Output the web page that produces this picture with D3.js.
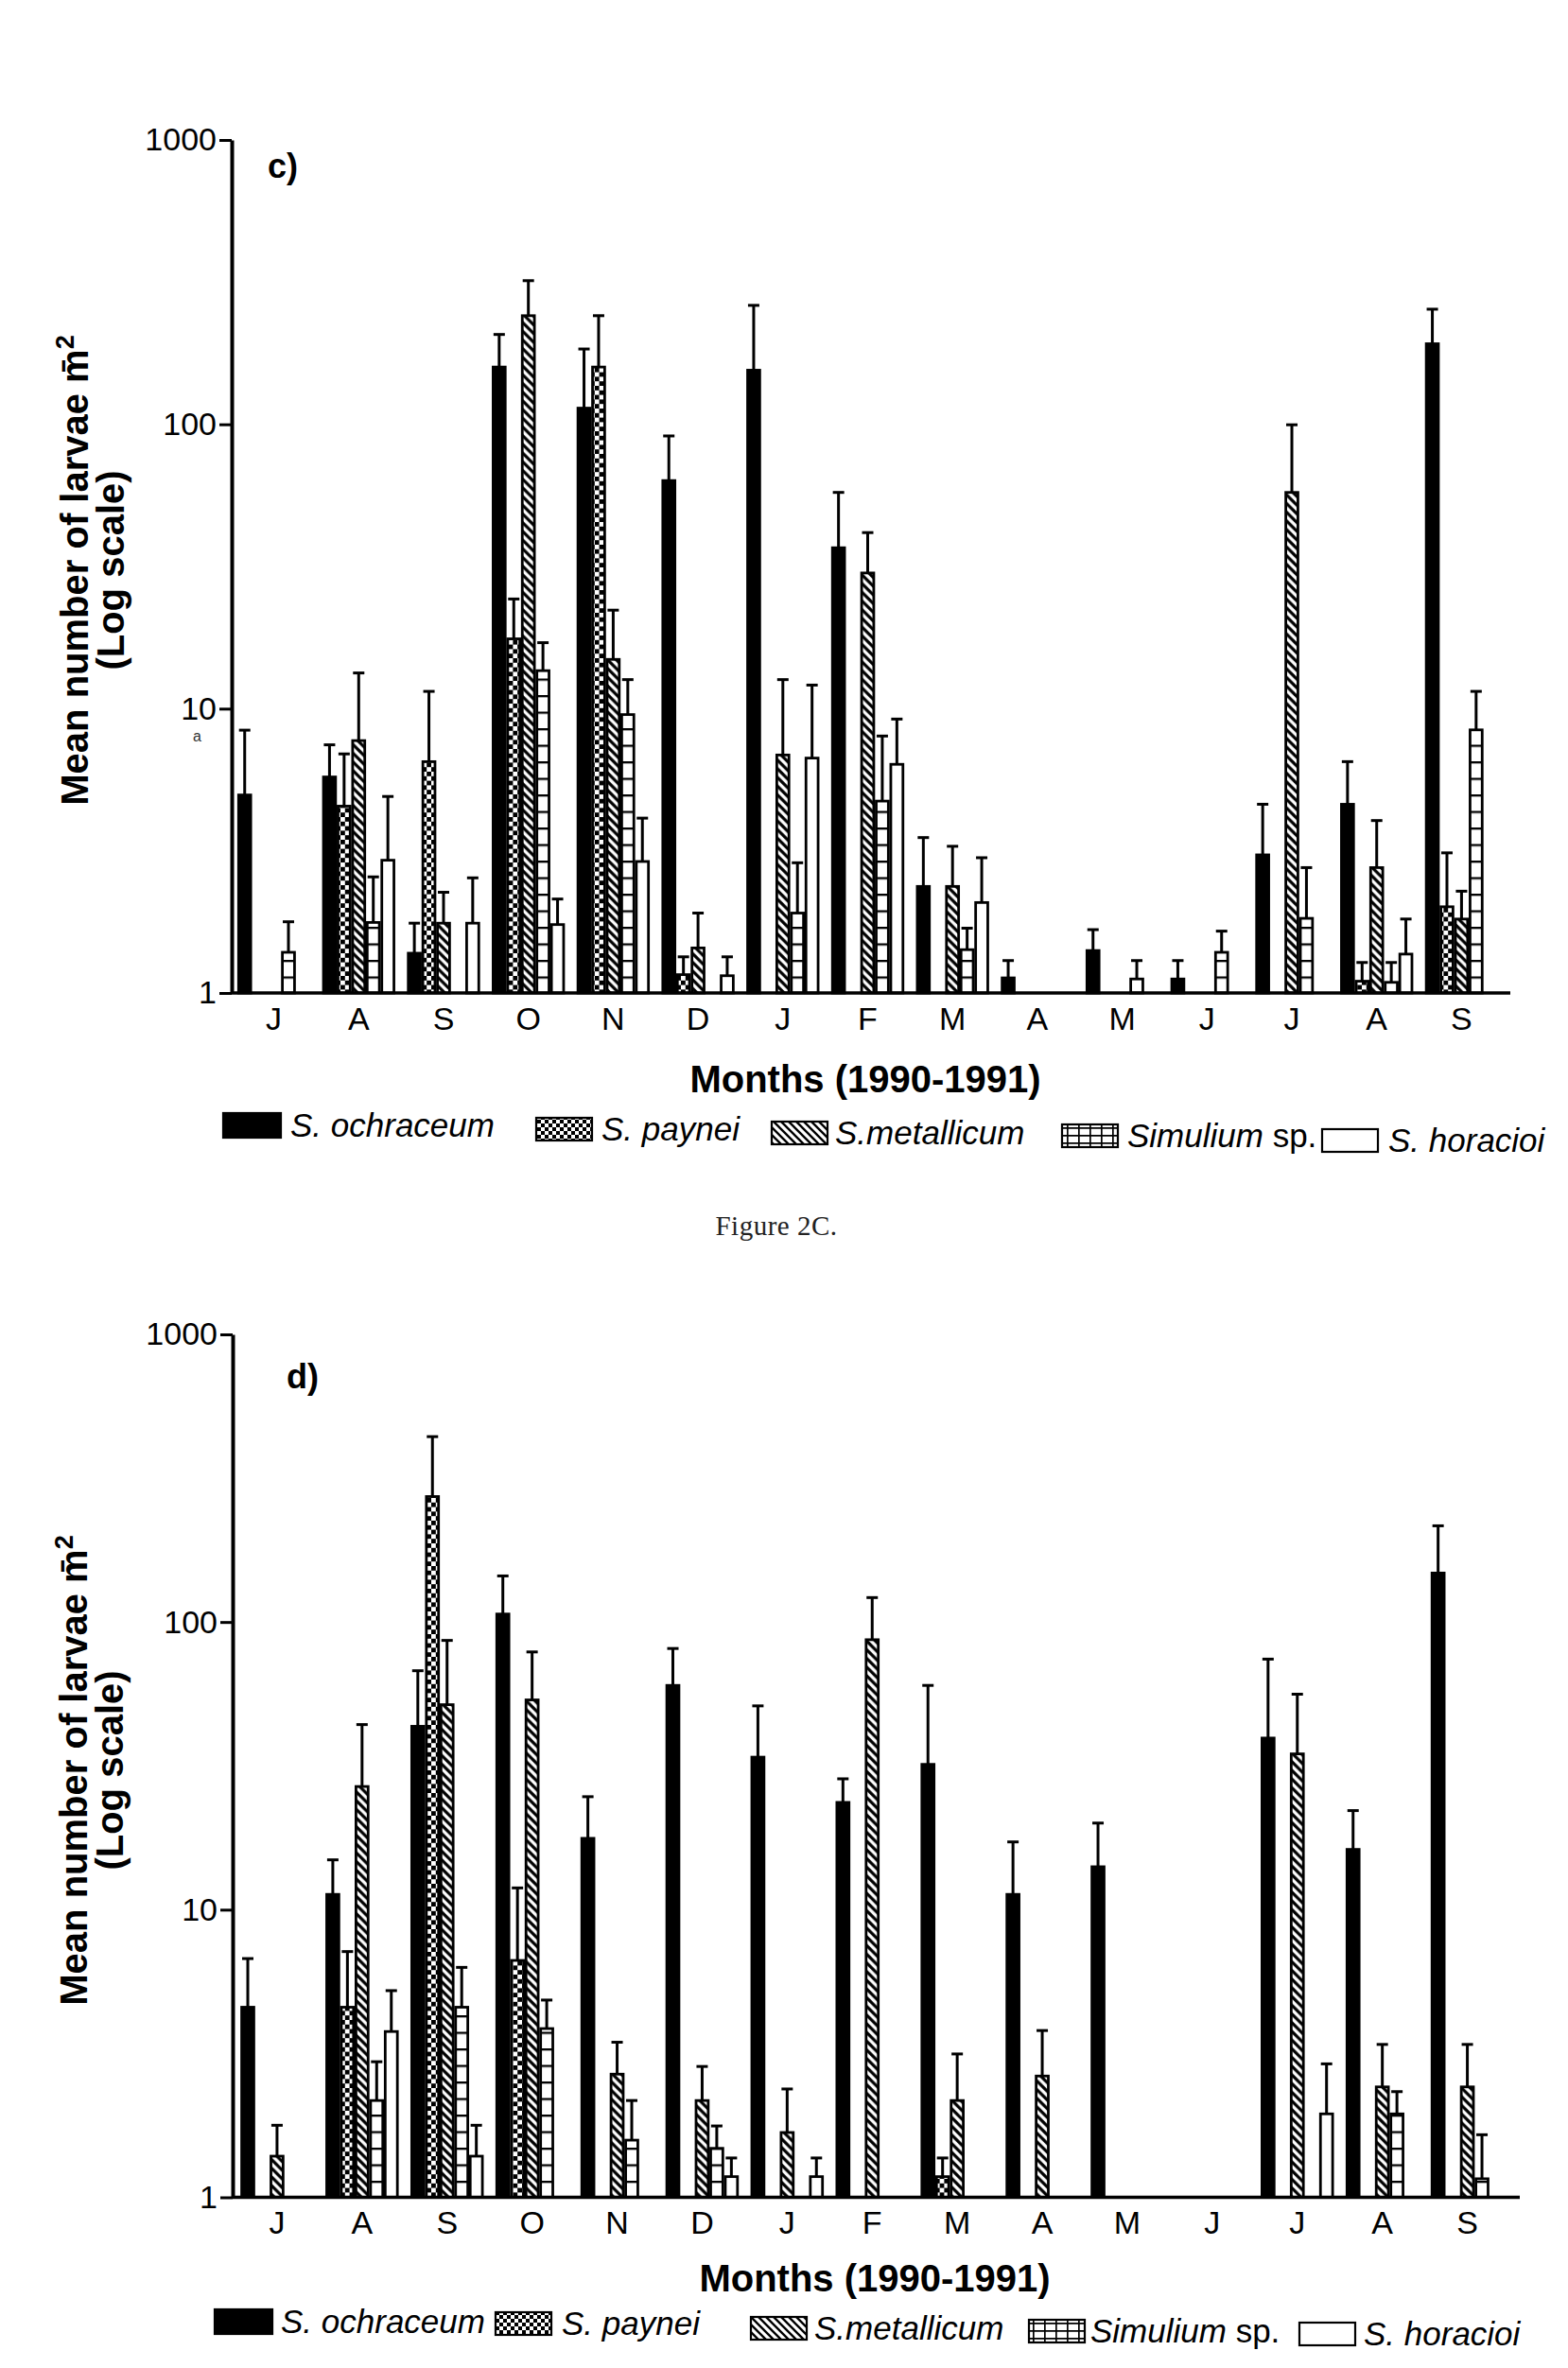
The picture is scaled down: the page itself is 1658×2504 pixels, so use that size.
<!DOCTYPE html>
<html>
<head>
<meta charset="utf-8">
<script src="https://cdn.jsdelivr.net/npm/d3@7"></script>
<style>
  html, body { margin: 0; padding: 0; background: #fff; }
  svg { display: block; }
</style>
</head>
<body>
<svg id="fig" width="1658" height="2504"></svg>
<script>
// ---------------- DATA ----------------
const months = ["J","A","S","O","N","D","J","F","M","A","M","J","J","A","S"];
const speciesKeys = ["ochraceum","paynei","metallicum","simulium","horacioi"];
const speciesLabels = ["S. ochraceum","S. paynei","S.metallicum","Simulium sp.","S. horacioi"];
const yTickValues = [1, 10, 100, 1000];

// Panel c) means (null = no bar)
const cOchraceum  = [4.97, 5.75, 1.38, 159, 114, 63.4, 155, 36.8, 2.37, 1.13, 1.41, 1.12, 3.06, 4.61, 192];
const cPaynei     = [null, 4.54, 6.51, 17.6, 159, 1.16, null, null, null, null, null, null, null, 1.10, 2.01];
const cMetallicum = [null, 7.72, 1.76, 241, 14.9, 1.44, 6.87, 30.0, 2.37, null, null, null, 57.6, 2.76, 1.82];
const cSimulium   = [1.39, 1.77, null, 13.6, 9.53, null, 1.91, 4.73, 1.42, null, 1.12, 1.39, 1.83, 1.09, 8.42];
const cHoracioi   = [null, 2.93, 1.76, 1.74, 2.90, 1.15, 6.70, 6.37, 2.08, null, null, null, null, 1.37, null];
// Panel c) upper end of error bars
const cOchraceumErr  = [8.4, 7.46, 1.76, 207, 184, 91, 262, 57.6, 3.52, 1.30, 1.67, 1.30, 4.61, 6.51, 254];
const cPayneiErr     = [null, 6.93, 11.5, 24.3, 241, 1.34, null, null, null, null, null, null, null, 1.28, 3.11];
const cMetallicumErr = [null, 13.35, 2.26, 320, 22.2, 1.91, 12.65, 41.6, 3.28, null, null, null, 99.6, 4.04, 2.28];
const cSimuliumErr   = [1.78, 2.56, null, 17.06, 12.65, null, 2.87, 8.01, 1.69, null, 1.30, 1.65, 2.76, 1.28, 11.5];
const cHoracioiErr   = [null, 4.91, 2.54, 2.14, 4.12, 1.34, 12.1, 9.19, 2.99, null, null, null, null, 1.82, null];

// Panel d) means
const dOchraceum  = [4.58, 11.3, 43.4, 106.6, 17.7, 60.2, 33.9, 23.6, 32.0, 11.3, 14.1, null, 39.5, 16.2, 148];
const dPaynei     = [null, 4.58, 273, 6.66, null, null, null, null, 1.18, null, null, null, null, null, null];
const dMetallicum = [1.39, 26.8, 51.6, 53.6, 2.68, 2.17, 1.68, 86.8, 2.17, 2.64, null, null, 34.8, 2.42, 2.42];
const dSimulium   = [null, 2.17, 4.58, 3.86, 1.58, 1.48, null, null, null, null, null, null, null, 1.95, 1.16];
const dHoracioi   = [null, 3.77, 1.39, null, null, 1.18, 1.18, null, null, null, null, null, 1.95, null, null];
// Panel d) upper end of error bars
const dOchraceumErr  = [6.76, 14.9, 67.7, 144.6, 24.7, 80.9, 51.1, 28.5, 60.2, 17.2, 20.0, null, 74.3, 22.1, 216];
const dPayneiErr     = [null, 7.15, 441, 11.9, null, null, null, null, 1.37, null, null, null, null, null, null];
const dMetallicumErr = [1.78, 44, 86.3, 78.7, 3.46, 2.85, 2.38, 121.6, 3.15, 3.80, null, null, 56.1, 3.40, 3.40];
const dSimuliumErr   = [null, 2.96, 6.3, 4.85, 2.17, 1.77, null, null, null, null, null, null, null, 2.33, 1.65];
const dHoracioiErr   = [null, 5.23, 1.78, null, null, 1.37, 1.37, null, null, null, null, null, 2.91, null, null];

// ---------------- LAYOUT ----------------
const FONT = "'Liberation Sans', Arial, Helvetica, sans-serif";
const layoutC = {
  means: [cOchraceum, cPaynei, cMetallicum, cSimulium, cHoracioi],
  errs:  [cOchraceumErr, cPayneiErr, cMetallicumErr, cSimuliumErr, cHoracioiErr],
  axisX: 245, axisEnd: 1597, yTop: 148, yBase: 1050,
  bandStart: 245, bandEnd: 1590, padOuter: 0.067,
  tag: "c)", tagX: 283, tagY: 188,
  monthY: 1089, titleX: 915, titleY: 1155,
  yTitleCenter: 603, yTitleX1: 93, yTitleX2: 131,
  swX: [236, 567, 816, 1123, 1398], txX: [307, 636, 883, 1192, 1468],
  lgY: [1190, 1194, 1198, 1201, 1206]
};
const layoutD = {
  means: [dOchraceum, dPaynei, dMetallicum, dSimulium, dHoracioi],
  errs:  [dOchraceumErr, dPayneiErr, dMetallicumErr, dSimuliumErr, dHoracioiErr],
  axisX: 246, axisEnd: 1607, yTop: 1411, yBase: 2323.5,
  bandStart: 246, bandEnd: 1598.5, padOuter: 0.092,
  tag: "d)", tagX: 303, tagY: 1468,
  monthY: 2362, titleX: 925, titleY: 2423,
  yTitleCenter: 1872, yTitleX1: 92, yTitleX2: 130,
  swX: [227, 524, 794, 1088, 1374], txX: [297, 594, 861, 1153, 1442],
  lgY: [2455, 2457, 2462, 2465, 2468]
};

const svg = d3.select("#fig");
svg.append("rect").attr("width", 1658).attr("height", 2504).attr("fill", "#fff");

// ---------------- PATTERNS ----------------
const defs = svg.append("defs");
function checker(id, s) {
  const p = defs.append("pattern").attr("id", id).attr("patternUnits", "userSpaceOnUse")
    .attr("width", 2 * s).attr("height", 2 * s);
  p.append("rect").attr("width", 2 * s).attr("height", 2 * s).attr("fill", "#fff");
  p.append("rect").attr("width", s).attr("height", s).attr("fill", "#000");
  p.append("rect").attr("x", s).attr("y", s).attr("width", s).attr("height", s).attr("fill", "#000");
}
checker("chk", 4.8);
checker("chkL", 4);
function hatch(id, s, w) {
  const p = defs.append("pattern").attr("id", id).attr("patternUnits", "userSpaceOnUse")
    .attr("width", s).attr("height", s);
  p.append("rect").attr("width", s).attr("height", s).attr("fill", "#fff");
  p.append("path")
    .attr("d", `M${-s / 2},${-s / 2}L${s * 1.5},${s * 1.5}M${-s / 2},${s / 2}L${s / 2},${s * 1.5}M${s / 2},${-s / 2}L${s * 1.5},${s / 2}`)
    .attr("stroke", "#000").attr("stroke-width", w);
}
hatch("hatch", 9.2, 3.2);
hatch("hatchL", 8, 2.4);
function hlines(id, y0) {
  const p = defs.append("pattern").attr("id", id).attr("patternUnits", "userSpaceOnUse")
    .attr("x", 0).attr("y", y0).attr("width", 20).attr("height", 17.5);
  p.append("rect").attr("width", 20).attr("height", 17.5).attr("fill", "#fff");
  p.append("line").attr("x1", 0).attr("x2", 20).attr("y1", 1).attr("y2", 1)
    .attr("stroke", "#000").attr("stroke-width", 2.6);
}
hlines("hlC", layoutC.yBase);
hlines("hlD", layoutD.yBase);
(function grid() {
  const p = defs.append("pattern").attr("id", "gridL").attr("patternUnits", "userSpaceOnUse")
    .attr("width", 12).attr("height", 8);
  p.append("rect").attr("width", 12).attr("height", 8).attr("fill", "#fff");
  p.append("path").attr("d", "M0,0.8H12M0.8,0V8").attr("stroke", "#000").attr("stroke-width", 1.8);
})();

function barFill(key, panelId) {
  switch (key) {
    case "ochraceum": return "#000";
    case "paynei": return "url(#chk)";
    case "metallicum": return "url(#hatch)";
    case "simulium": return panelId === "c" ? "url(#hlC)" : "url(#hlD)";
    default: return "#fff";
  }
}
function legendFill(key) {
  switch (key) {
    case "ochraceum": return "#000";
    case "paynei": return "url(#chkL)";
    case "metallicum": return "url(#hatchL)";
    case "simulium": return "url(#gridL)";
    default: return "#fff";
  }
}

// ---------------- DRAW PANEL ----------------
function drawPanel(L, panelId) {
  const g = svg.append("g");

  const x = d3.scaleBand().domain(d3.range(months.length))
    .range([L.bandStart, L.bandEnd]).paddingInner(0.14).paddingOuter(L.padOuter);
  const xs = d3.scaleBand().domain(speciesKeys).range([0, x.bandwidth()]);
  const y = d3.scaleLog().domain([1, 1000]).range([L.yBase, L.yTop]);

  const rows = [];
  months.forEach((m, i) => {
    speciesKeys.forEach((k, s) => {
      const v = L.means[s][i];
      if (v != null) rows.push({ i, k, v, e: L.errs[s][i] });
    });
  });

  // bars
  g.append("g").selectAll("rect").data(rows).join("rect")
    .attr("x", d => x(d.i) + xs(d.k) + 1.3)
    .attr("width", xs.bandwidth() - 2.6)
    .attr("y", d => y(d.v))
    .attr("height", d => L.yBase - y(d.v))
    .attr("fill", d => barFill(d.k, panelId))
    .attr("stroke", "#000")
    .attr("stroke-width", 2.8);

  // error bars
  const eg = g.append("g").attr("stroke", "#000").attr("stroke-width", 3);
  const withErr = rows.filter(d => d.e != null);
  eg.selectAll("line.v").data(withErr).join("line").attr("class", "v")
    .attr("x1", d => x(d.i) + xs(d.k) + xs.bandwidth() / 2)
    .attr("x2", d => x(d.i) + xs(d.k) + xs.bandwidth() / 2)
    .attr("y1", d => y(d.v)).attr("y2", d => y(d.e));
  eg.selectAll("line.c").data(withErr).join("line").attr("class", "c")
    .attr("x1", d => x(d.i) + xs(d.k) + xs.bandwidth() / 2 - 6)
    .attr("x2", d => x(d.i) + xs(d.k) + xs.bandwidth() / 2 + 6)
    .attr("y1", d => y(d.e)).attr("y2", d => y(d.e));

  // x baseline
  g.append("line").attr("x1", L.axisX).attr("x2", L.axisEnd)
    .attr("y1", L.yBase).attr("y2", L.yBase)
    .attr("stroke", "#000").attr("stroke-width", 3.6);

  // y axis
  const ya = g.append("g").attr("transform", `translate(${L.axisX},0)`)
    .call(d3.axisLeft(y).tickValues(yTickValues).tickFormat(d3.format("d"))
      .tickSize(13).tickPadding(3).tickSizeOuter(0));
  ya.select(".domain").attr("stroke", "#000").attr("stroke-width", 4);
  ya.selectAll(".tick line").attr("stroke", "#000").attr("stroke-width", 3);
  ya.selectAll(".tick text").attr("fill", "#000").attr("font-family", FONT).attr("font-size", 34);

  // month labels
  const xa = g.append("g").attr("transform", `translate(0,${L.monthY})`)
    .call(d3.axisBottom(x).tickFormat(i => months[i]).tickSize(0).tickPadding(0));
  xa.select(".domain").remove();
  xa.selectAll(".tick text").attr("y", 0).attr("dy", 0).attr("fill", "#000")
    .attr("font-family", FONT).attr("font-size", 34);

  // panel tag
  g.append("text").attr("x", L.tagX).attr("y", L.tagY).text(L.tag)
    .attr("font-family", FONT).attr("font-weight", "bold").attr("font-size", 36);

  // x title
  g.append("text").attr("x", L.titleX).attr("y", L.titleY).attr("text-anchor", "middle")
    .attr("font-family", FONT).attr("font-weight", "bold").attr("font-size", 40)
    .text("Months (1990-1991)");

  // y title
  const yt1 = g.append("text")
    .attr("transform", `translate(${L.yTitleX1},${L.yTitleCenter}) rotate(-90)`)
    .attr("text-anchor", "middle").attr("font-family", FONT)
    .attr("font-weight", "bold").attr("font-size", 40);
  yt1.append("tspan").text("Mean number of larvae m\u0304");
  yt1.append("tspan").attr("dy", -15).attr("font-size", 27).text("2");
  g.append("text")
    .attr("transform", `translate(${L.yTitleX2},${L.yTitleCenter}) rotate(-90)`)
    .attr("text-anchor", "middle").attr("font-family", FONT)
    .attr("font-weight", "bold").attr("font-size", 40)
    .text("(Log scale)");

  // legend
  const lg = g.append("g");
  speciesKeys.forEach((k, s) => {
    const cy = L.lgY[s];
    const isBlack = k === "ochraceum";
    lg.append("rect").attr("x", L.swX[s]).attr("y", cy - (isBlack ? 13 : 12))
      .attr("width", isBlack ? 61 : 59).attr("height", isBlack ? 26 : 24)
      .attr("fill", legendFill(k)).attr("stroke", "#000").attr("stroke-width", 2.2);
    const t = lg.append("text").attr("x", L.txX[s]).attr("y", cy + 12)
      .attr("font-family", FONT).attr("font-size", 35);
    if (k === "simulium") {
      t.append("tspan").attr("font-style", "italic").text("Simulium");
      t.append("tspan").text(" sp.");
    } else {
      t.attr("font-style", "italic").text(speciesLabels[s]);
    }
  });
}

drawPanel(layoutC, "c");
drawPanel(layoutD, "d");

// stray scan mark below the "10" label in panel c
svg.append("text").attr("x", 204).attr("y", 784).attr("font-family", FONT)
  .attr("font-size", 16).attr("fill", "#333").text("a");

// caption
svg.append("text").attr("x", 821).attr("y", 1306).attr("text-anchor", "middle")
  .attr("font-family", "'Liberation Serif', 'DejaVu Serif', serif").attr("font-size", 29)
  .attr("letter-spacing", 0.5).attr("fill", "#222").text("Figure 2C.");
</script>
</body>
</html>
